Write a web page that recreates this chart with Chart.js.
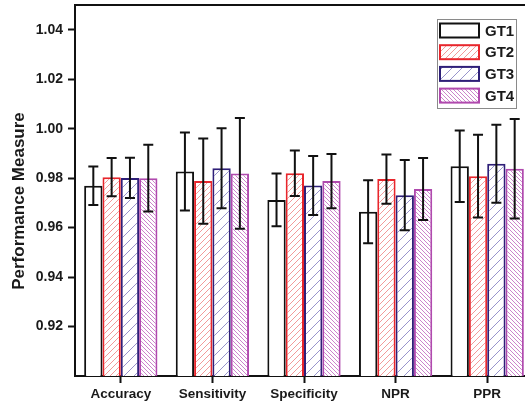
<!DOCTYPE html>
<html>
<head>
<meta charset="utf-8">
<script src="https://cdn.jsdelivr.net/npm/chart.js@4.4.0/dist/chart.umd.min.js"></script>
<style>
  html, body { margin: 0; padding: 0; background: #fff; overflow: hidden; }
  #wrap { width: 525px; height: 405px; overflow: hidden; }
</style>
</head>
<body>
<div id="wrap"><canvas id="perfChart" width="533" height="405"></canvas></div>
<script>
// Data
const categories = ['Accuracy', 'Sensitivity', 'Specificity', 'NPR', 'PPR'];
const seriesNames = ['GT1', 'GT2', 'GT3', 'GT4'];
const gt1 = [0.9769, 0.9827, 0.9712, 0.9664, 0.9848];
const gt2 = [0.9804, 0.9788, 0.9820, 0.9796, 0.9808];
const gt3 = [0.9801, 0.9840, 0.9770, 0.9731, 0.9858];
const gt4 = [0.9800, 0.9819, 0.9788, 0.9756, 0.9838];
const gt1Err = [0.0078, 0.0158, 0.0107, 0.0127, 0.0145];
const gt2Err = [0.0077, 0.0172, 0.0092, 0.0100, 0.0167];
const gt3Err = [0.0081, 0.0162, 0.0119, 0.0142, 0.0158];
const gt4Err = [0.0135, 0.0224, 0.0110, 0.0125, 0.0201];
const yTicks = [0.92, 0.94, 0.96, 0.98, 1.00, 1.02, 1.04];
const yTitle = 'Performance Measure';

const FONT = "'Liberation Sans', Arial, sans-serif";
const TEXT = '#1a1a1a';

// hatch fill for the bars
function hatch(color, size, dir) {
    const c = document.createElement('canvas');
    c.width = size; c.height = size;
    const g = c.getContext('2d');
    g.fillStyle = '#fff';
    g.fillRect(0, 0, size, size);
    g.strokeStyle = color;
    g.lineWidth = 1;
    g.beginPath();
    if (dir === '/') {
        g.moveTo(-1, size + 1); g.lineTo(size + 1, -1);
        g.moveTo(-1, 1); g.lineTo(1, -1);
        g.moveTo(size - 1, size + 1); g.lineTo(size + 1, size - 1);
    } else {
        g.moveTo(-1, -1); g.lineTo(size + 1, size + 1);
        g.moveTo(size - 1, -1); g.lineTo(size + 1, 1);
        g.moveTo(-1, size - 1); g.lineTo(1, size + 1);
    }
    g.stroke();
    return g.createPattern(c, 'repeat');
}

const fills = ['#ffffff', hatch('#f29a9a', 6, '/'), hatch('#9894cc', 10, '/'), hatch('#cc84cc', 4, '\\')];
const borders = ['#111111', '#e8262c', '#2e1f78', '#b04aae'];
const values = [gt1, gt2, gt3, gt4];
const errors = [gt1Err, gt2Err, gt3Err, gt4Err];

// error bars, drawn through the y scale
const errorBars = {
    id: 'errorBars',
    afterDatasetsDraw(chart) {
        const ctx = chart.ctx;
        const y = chart.scales.y;
        ctx.save();
        ctx.strokeStyle = '#111';
        ctx.lineWidth = 2;
        chart.data.datasets.forEach((ds, i) => {
            const meta = chart.getDatasetMeta(i);
            meta.data.forEach((bar, j) => {
                const v = ds.data[j], e = errors[i][j];
                const top = y.getPixelForValue(v + e);
                const bot = y.getPixelForValue(v - e);
                const x = bar.x;
                ctx.beginPath();
                ctx.moveTo(x, top); ctx.lineTo(x, bot);
                ctx.moveTo(x - 5, top); ctx.lineTo(x + 5, top);
                ctx.moveTo(x - 5, bot); ctx.lineTo(x + 5, bot);
                ctx.stroke();
            });
        });
        ctx.restore();
    }
};

// top and right frame lines, y title, legend box inside the plot
const frameAndLegend = {
    id: 'frameAndLegend',
    afterDraw(chart) {
        const ctx = chart.ctx;
        const a = chart.chartArea;
        ctx.save();
        ctx.strokeStyle = '#111';
        ctx.lineWidth = 2;
        ctx.beginPath();
        ctx.moveTo(a.left - 1, a.top);
        ctx.lineTo(a.right, a.top);
        ctx.lineTo(a.right, a.bottom);
        ctx.stroke();

        // y axis title (sits a bit below the plot centre in the original)
        ctx.save();
        ctx.translate(19, 201);
        ctx.rotate(-Math.PI / 2);
        ctx.font = 'bold 17px ' + FONT;
        ctx.fillStyle = TEXT;
        ctx.textAlign = 'center';
        ctx.textBaseline = 'middle';
        ctx.fillText(yTitle, 0, 0);
        ctx.restore();

        // legend
        ctx.lineWidth = 1;
        ctx.strokeStyle = '#8a8a8a';
        ctx.strokeRect(437.5, 19.5, 79, 89);
        ctx.font = 'bold 15px ' + FONT;
        ctx.textBaseline = 'middle';
        chart.data.datasets.forEach((ds, i) => {
            const cy = 30.5 + i * 21.7;
            ctx.fillStyle = ds.backgroundColor;
            ctx.fillRect(440, cy - 7, 39, 14);
            ctx.strokeStyle = ds.borderColor;
            ctx.lineWidth = 2;
            ctx.strokeRect(440, cy - 7, 39, 14);
            ctx.fillStyle = TEXT;
            ctx.fillText(ds.label, 485, cy + 1);
        });
        ctx.restore();
    }
};

new Chart(document.getElementById('perfChart'), {
    type: 'bar',
    data: {
        labels: categories,
        datasets: seriesNames.map((name, i) => ({
            label: name,
            data: values[i],
            backgroundColor: fills[i],
            borderColor: borders[i],
            borderWidth: 2,
            borderSkipped: 'start',
            categoryPercentage: 0.8,
            barPercentage: 1.0
        }))
    },
    options: {
        responsive: false,
        animation: false,
        layout: { padding: { top: 5, right: 0, left: 0, bottom: 0 } },
        plugins: {
            legend: { display: false },
            tooltip: { enabled: false }
        },
        scales: {
            x: {
                offset: true,
                grid: {
                    offset: false,
                    drawOnChartArea: false,
                    drawTicks: true,
                    tickLength: 7,
                    tickColor: '#111',
                    tickWidth: 2
                },
                border: { color: '#111', width: 2 },
                ticks: {
                    color: TEXT,
                    padding: 3,
                    maxRotation: 0,
                    font: { family: FONT, size: 13.5, weight: 'bold' }
                },
                afterFit(scale) {
                    scale.height = 29;
                    scale.paddingLeft = 0;
                    scale.paddingRight = 0;
                }
            },
            y: {
                min: 0.90,
                max: 1.05,
                grid: {
                    drawOnChartArea: false,
                    drawTicks: true,
                    tickLength: 7,
                    tickColor: '#111',
                    tickWidth: 2
                },
                border: { color: '#111', width: 2 },
                afterBuildTicks(scale) {
                    scale.ticks = yTicks.map(v => ({ value: v }));
                },
                ticks: {
                    color: TEXT,
                    padding: 5,
                    font: { family: FONT, size: 14, weight: 'bold' },
                    callback: v => v.toFixed(2)
                },
                afterFit(scale) {
                    scale.width = 75;
                    scale.paddingTop = 0;
                    scale.paddingBottom = 0;
                }
            }
        }
    },
    plugins: [errorBars, frameAndLegend]
});
</script>
</body>
</html>
